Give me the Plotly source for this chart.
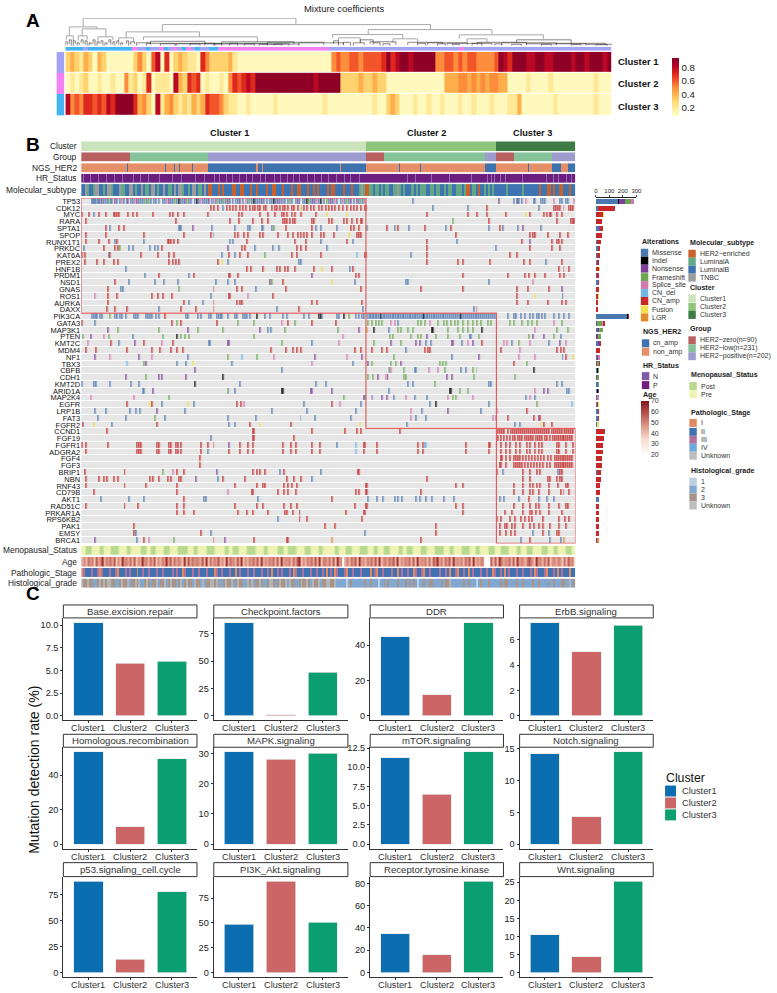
import plotly.graph_objects as go

W, H = 777, 993
FONT = "Liberation Sans"

# ---------- panel A ----------
MIX_CLUSTER1 = "3432431" + "43" + "111111" + "35316" + "817" + "1343221" + "7533334" + "211" + "1111111111111111111" + "565566566667" + "97899899999" + "55665656655556" + "9879998899889999899899989"
MIX_CLUSTER2 = "1212311211211" + "52" + "312712221" + "8437671" + "21121" + "576787" + "9999999999999899999" + "3333433433" + "1111111111111" + "44455454545544" + "1111211112111111111211111"
MIX_CLUSTER3 = "85657767687999" + "97" + "45318245" + "3232434" + "7665" + "322" + "1121111121111111111211" + "11111111211" + "343" + "1112112112111211211121112" + "241" + "111111211111111211111"
MIX_TOP_STRIP = "3333133333333" + "33" + "2113112312132131133" + "2222222222222222222222222" + "1" * 29 + "2" + "1" * 33
MIX_ROWS = ["Cluster 1", "Cluster 2", "Cluster 3"]

DENDRO_X0 = [82, 68, 162, 370, 125.5, 143, 334, 462, 118, 65, 81, 77, 97, 340, 362, 395, 470, 520, 150, 222, 268, 300, 372, 410, 430, 450, 480, 505, 530, 560, 590, 64, 68, 72, 76, 80, 84, 88, 92, 96, 100, 104, 108, 112, 116, 120, 126, 130, 136, 146, 160, 176, 190, 205, 214, 230, 245, 260, 275, 335, 345, 355, 375, 385, 420, 440, 455, 475, 498, 515, 545, 575, 600]
DENDRO_X1 = [297, 96, 433, 495, 199.5, 258, 405, 547, 133, 72, 105, 86, 112, 362, 375, 420, 490, 575, 205, 295, 325, 345, 398, 445, 470, 495, 530, 560, 590, 610, 616, 66, 70, 74, 78, 82, 86, 90, 94, 98, 102, 106, 110, 114, 118, 122, 128, 134, 150, 175, 200, 215, 222, 238, 255, 268, 290, 283, 300, 340, 352, 366, 382, 392, 428, 448, 462, 485, 505, 525, 555, 585, 612]
DENDRO_H = [27.7, 19, 21.3, 16.3, 14, 9, 11.3, 11, 8, 10, 17, 10, 9, 8, 6, 7, 7, 6, 4.5, 4, 3.5, 3, 4, 3.5, 3, 2.5, 3.5, 3, 2, 2.5, 1.5, 4, 6, 5, 3, 6, 5, 3, 6, 4, 5, 3, 6, 4, 5, 3, 5, 4, 3, 2.5, 2, 2.5, 2, 2.5, 1.8, 2.5, 2, 1.5, 1.8, 5, 3.5, 3, 3, 2, 2.5, 2, 1.5, 2.5, 2, 1.5, 1.5, 1.2, 1]
DENDRO_H0 = [19, 10, 14, 11.3, 8, 6, 8, 7, 5, 6, 10, 5, 5, 5, 3, 3, 3, 3, 2, 1.5, 1, 1, 2, 1, 1, 1, 1, 1, 1, 1, 0.5, 0, 2, 0, 0, 3, 1, 0, 2, 0, 2, 0, 3, 1, 2, 0, 2, 1, 0, 0, 0, 0, 0, 0, 0, 0, 0, 0, 0, 2, 1, 0, 1, 0, 0, 0, 0, 0, 0, 0, 0, 0, 0]
DENDRO_H1 = [21.3, 17, 16.3, 11, 9, 4, 7, 7, 4, 5, 9, 6, 6, 3, 3, 2, 4, 2, 2, 2, 1, 1, 1, 2, 1, 1, 1, 1, 1, 1, 0.5, 1, 0, 2, 1, 2, 0, 1, 0, 2, 0, 1, 1, 0, 1, 1, 0, 2, 1, 0, 0, 0, 0, 0, 0, 0, 0, 0, 0, 0, 0, 1, 0, 0, 0, 0, 0, 0, 0, 0, 0, 0, 0]

# ---------- panel B ----------
GENES = ["TP53", "CDK12", "MYC", "RARA", "SPTA1", "SPOP", "RUNX1T1", "PRKDC", "KAT6A", "PREX2", "HNF1B", "PRDM1", "NSD1", "GNAS", "ROS1", "AURKA", "DAXX",
         "PIK3CA", "GATA3", "MAP3K1", "PTEN", "KMT2C", "MDM4", "NF1", "TBX3", "CBFB", "CDH1", "KMT2D", "ARID1A", "MAP2K4", "EGFR", "LRP1B", "FAT3", "FGFR2",
         "CCND1", "FGF19", "FGFR1", "ADGRA2", "FGF4", "FGF3", "BRIP1", "NBN", "RNF43", "CD79B", "AKT1", "RAD51C", "PRKAR1A", "RPS6KB2", "PAK1", "EMSY", "BRCA1"]
PERCENT = [54, 27, 11, 9, 9, 9, 7, 6, 6, 5, 5, 4, 4, 4, 4, 3, 3, 46, 12, 9, 7, 7, 6, 5, 5, 4, 4, 4, 4, 4, 4, 4, 3, 3, 13, 12, 10, 10, 9, 9, 7, 7, 6, 6, 5, 5, 5, 5, 5, 4, 3]

N_COLS = 500
CLUSTER_ENDS = [0, 288, 420, 500]
CLUSTER_LABELS = ["Cluster 1", "Cluster 2", "Cluster 3"]
CLUSTER_LABEL_POS = [150, 349, 456]
CLUSTER_GENE_SPANS = [(0, 16), (17, 33), (34, 50)]

MISSENSE = {
    "TP53": [10, 11, 12, 13, 14, 16, 17, 18, 22, 24, 26, 29, 30, 35, 38, 42, 46, 50, 52, 58, 60, 62, 66, 70, 73, 75, 78, 82, 84, 90, 92, 96, 100, 102, 108, 110, 114, 118, 122, 124, 126, 131, 133, 136, 140, 142, 146, 150, 153, 156, 158, 163, 168, 172, 176, 178, 180, 184, 187, 190, 192, 196, 200, 202, 205, 208, 212, 216, 220, 224, 226, 232, 236, 240, 245, 250, 254, 258, 262, 266, 270, 275, 280, 284, 335, 437, 440, 442, 445, 457, 458, 464, 466, 468, 483, 485, 490, 492],
    "CDK12": [143, 222, 355, 390, 462],
    "MYC": [12], "SPTA1": [28, 98, 99, 100, 131, 155, 168, 170, 182, 183, 192, 237, 242, 258, 288, 317, 331, 368, 412, 426, 441, 464],
    "SPOP": [133], "RUNX1T1": [33, 63, 150, 153, 242, 274, 379],
    "PRKDC": [2, 48, 52, 69, 74, 77, 175, 193, 199, 248, 419], "KAT6A": [27, 142, 155, 333], "PREX2": [148, 219, 222, 469],
    "HNF1B": [45, 271], "PRDM1": [64, 108], "NSD1": [48, 74, 83, 97, 136, 148, 155, 276, 328, 330, 412],
    "GNAS": [39, 41, 176], "ROS1": [130, 486], "AURKA": [108, 122], "DAXX": [78, 197, 284, 396],
    "PIK3CA": [10, 12, 14, 15, 18, 20, 33, 35, 38, 40, 45, 53, 55, 57, 65, 67, 69, 71, 75, 78, 105, 107, 117, 120, 128, 130, 137, 139, 141, 142, 148, 155, 157, 163, 165, 167, 170, 185, 190, 203, 207, 225, 230, 243, 258, 260, 277, 280, 283, 285, 289, 291, 292, 294, 295, 297, 298, 300, 303, 305, 306, 308, 310, 311, 313, 315, 316, 318, 320, 321, 323, 325, 326, 328, 330, 332, 333, 335, 337, 338, 340, 342, 344, 345, 347, 349, 350, 352, 354, 356, 357, 359, 361, 363, 365, 366, 368, 370, 372, 374, 376, 378, 380, 382, 384, 386, 388, 390, 392, 394, 396, 398, 400, 402, 404, 406, 408, 410, 412, 414, 416, 418, 431, 437, 439, 444, 448, 453, 456, 460, 462, 465, 468, 477, 482, 488, 493],
    "GATA3": [13, 320], "MAP3K1": [188, 191, 311], "PTEN": [52, 392, 393, 484], "KMT2C": [37, 128, 129, 233, 348, 353, 384, 435, 472],
    "MDM4": [328], "NF1": [107, 374, 486], "TBX3": [96, 105, 152, 274], "CBFB": [202, 310, 337, 338, 383, 388],
    "KMT2D": [0, 12, 14, 28, 50, 58, 160, 237, 247, 330, 335, 412, 414, 480, 485],
    "ARID1A": [62, 63, 148, 155, 311, 491, 493], "MAP2K4": [286, 293, 316, 337, 349, 449, 458],
    "EGFR": [81, 113, 225, 282, 352, 412], "LRP1B": [13, 24, 49, 55, 59, 104, 192, 228, 277, 344, 404],
    "FAT3": [16, 45, 84, 148, 176, 221, 236, 272, 338, 348], "FGFR2": [30, 149, 155, 329, 438, 443],
    "FGF19": [130], "FGFR1": [258], "ADGRA2": [127], "BRIP1": [137, 200, 242, 426, 481], "NBN": [138, 233],
    "AKT1": [19, 48, 63, 123, 125, 178, 289, 298, 304, 317, 320, 324, 338, 342, 348, 354, 366, 376, 423, 427, 442, 462, 470, 477],
    "RPS6KB2": [198], "EMSY": [55, 130, 286, 456, 472], "BRCA1": [56, 444, 473, 484],
}
INDEL = {
    "TP53": [98, 116, 174, 194, 228, 242], "PIK3CA": [177, 240, 242, 265, 302, 346, 383], "MAP3K1": [295, 354, 355, 405],
    "PTEN": [96], "CDH1": [143], "CBFB": [457], "KMT2D": [114], "ARID1A": [202, 203, 372, 373], "EGFR": [358],
}
NONSENSE = {
    "TP53": [20, 33, 47, 56, 88, 104, 128, 148, 160, 182, 198, 218, 234, 252, 272, 278, 422, 441],
    "SPTA1": [112, 446], "RUNX1T1": [453], "PRKDC": [148], "PRDM1": [233], "NSD1": [190], "GNAS": [485],
    "MAP3K1": [26, 107, 180, 280], "PTEN": [9, 349, 456, 467], "KMT2C": [54, 148, 149, 313, 338, 342, 374, 375, 395, 483],
    "NF1": [13, 58, 236, 283, 402], "TBX3": [65, 289, 323], "CBFB": [114], "CDH1": [45, 78, 81, 105, 299, 309, 369, 374],
    "ARID1A": [72, 232, 233, 253, 467, 471], "MAP2K4": [285, 303, 308], "LRP1B": [76, 370], "FAT3": [462], "FGFR1": [149],
    "BRIP1": [137], "NBN": [115], "BRCA1": [13, 145],
}
FRAMESHIFT = {
    "TP53": [27, 64, 68, 94, 106, 138, 144, 170, 210, 230, 248, 268, 282], "RARA": [375], "SPTA1": [194], "PRKDC": [38], "KAT6A": [185],
    "NSD1": [192], "GNAS": [98], "PIK3CA": [28, 270],
    "GATA3": [96, 158, 174, 215, 289, 293, 297, 300, 303, 340, 343, 347, 360, 366, 369, 373, 377, 380, 385, 390, 395, 400, 404, 411, 414, 433, 437, 445, 451, 455, 460, 485],
    "MAP3K1": [36, 78, 117, 143, 205, 259, 320, 323, 330, 335, 370, 380, 385, 390, 395, 480, 492],
    "PTEN": [1, 27, 82, 100, 104, 108, 174, 312, 315, 333, 340, 343, 358, 370, 382, 402, 452, 477],
    "KMT2C": [202, 295, 323, 442], "NF1": [148, 177, 316], "TBX3": [63, 293, 313, 318, 362, 365, 368, 450],
    "CBFB": [312, 326, 367, 395, 399], "CDH1": [65, 289, 294, 326, 328, 396, 438], "KMT2D": [357], "ARID1A": [148, 382, 390],
    "MAP2K4": [88, 265, 375, 378], "EGFR": [460], "FAT3": [74], "BRIP1": [82], "BRCA1": [93],
}
SPLICE = {
    "TP53": [40, 54, 86, 120, 134, 166, 204, 238, 256, 264, 286, 449, 477, 498], "ROS1": [13, 168], "NSD1": [456],
    "GATA3": [202, 313, 317, 352, 477], "PTEN": [22, 264], "KMT2C": [6, 81, 260, 390, 427, 430, 453, 490], "MDM4": [443],
    "NF1": [28, 71, 194, 268, 442, 458], "TBX3": [233], "CBFB": [313, 351, 360], "CDH1": [307], "ARID1A": [458],
    "MAP2K4": [9, 53, 293, 328, 370, 395, 453], "EGFR": [164, 261], "LRP1B": [333, 420], "FAT3": [333, 416, 419], "BRIP1": [92], "CD79B": [148], "BRCA1": [68], "MAP3K1": [458],
}
CN_DEL = {"KAT6A": [278], "NF1": [162], "TBX3": [46], "EGFR": [496], "FGFR1": [277, 347, 348], "ADGRA2": [277]}
CN_AMP = {
    "CDK12": [130, 134, 138, 147, 150, 153, 156, 160, 163, 166, 170, 173, 175, 178, 180, 184, 186, 192, 195, 197, 200, 203, 205, 208, 212, 214, 218, 225, 228, 232, 235, 240, 243, 247, 250, 253, 256, 260, 264, 268, 272, 275, 278, 282, 286, 287, 410, 477, 479, 481, 483, 487, 493, 495, 497],
    "MYC": [0, 7, 17, 24, 32, 33, 35, 37, 47, 52, 56, 72, 89, 92, 97, 103, 127, 159, 162, 180, 188, 195, 202, 204, 207, 212, 215, 222, 237, 349, 390, 400, 410, 429, 453, 467, 470, 473, 474, 480, 485],
    "RARA": [4, 95, 150, 159, 173, 182, 188, 203, 205, 207, 210, 213, 215, 233, 235, 250, 253, 265, 268, 273, 278, 282, 283, 412, 480, 495, 497, 498],
    "SPTA1": [24, 37, 42, 206, 233, 272, 275, 280, 308, 320, 347, 373, 423],
    "SPOP": [4, 24, 63, 103, 130, 155, 158, 164, 168, 180, 183, 198, 208, 213, 218, 222, 225, 228, 233, 242, 245, 255, 278, 280, 282, 378, 453, 456, 458, 471, 483, 492],
    "RUNX1T1": [4, 17, 27, 35, 87, 88, 90, 93, 97, 167, 215, 227, 268, 349, 445, 475, 480, 482, 485],
    "PRKDC": [22, 33, 36, 81, 162, 165, 217, 222, 227, 349, 453, 475, 483],
    "KAT6A": [0, 3, 28, 60, 77, 88, 93, 149, 160, 168, 212, 217, 242, 287, 286, 349, 433, 440],
    "PREX2": [3, 15, 22, 32, 36, 88, 92, 95, 98, 138, 349, 380, 385, 413, 447, 453, 485],
    "HNF1B": [167, 171, 183, 197, 200, 205, 208, 215, 235, 253, 274, 482, 487, 493],
    "PRDM1": [78, 113, 149, 150, 158, 277, 280, 385, 431, 448, 452, 458, 468, 483, 488],
    "NSD1": [33, 203], "GNAS": [26, 133, 157, 162, 206, 282, 343, 385, 440, 451, 472],
    "ROS1": [26, 35, 71, 77, 82, 91, 149, 150, 193, 440], "AURKA": [26, 103, 133, 157, 160, 162, 233, 238, 283, 440, 451, 471, 485, 490],
    "DAXX": [25, 33, 46, 100, 115, 133, 219, 399], "PIK3CA": [84], "GATA3": [0, 91, 100, 137, 208, 233, 257],
    "KMT2C": [29, 63, 92, 405], "MDM4": [4, 14, 46, 71, 79, 90, 96, 102, 191, 206, 213, 217, 222, 276, 282, 293, 303, 308, 347, 350, 352, 424, 480, 484, 488],
    "NF1": [490], "TBX3": [437], "EGFR": [46, 71, 157, 161, 253], "LRP1B": [450], "FAT3": [431, 457, 463],
    "FGFR2": [1, 76, 170, 211, 467, 475],
    "CCND1": [25, 173, 174, 233, 266, 278, 282, 322, 421, 423, 425, 427, 431, 434, 436, 438, 440, 442, 444, 446, 448, 450, 452, 454, 456, 458, 460, 462, 464, 466, 468, 470, 472, 475, 477, 479, 481, 483, 485, 487, 489, 491, 493, 495, 497],
    "FGF19": [173, 174, 214, 421, 424, 427, 430, 433, 436, 438, 441, 443, 445, 448, 450, 452, 454, 456, 459, 461, 463, 465, 468, 470, 473, 476, 478, 480, 482, 484, 486, 488, 490, 492, 494, 496],
    "FGFR1": [0, 4, 26, 56, 58, 60, 76, 78, 88, 90, 95, 97, 100, 120, 127, 133, 160, 168, 173, 203, 211, 216, 233, 241, 286, 285, 298, 340, 345, 388, 412, 413, 424, 429, 433, 439, 443, 450, 453, 458, 462, 465, 480, 482, 490, 497],
    "ADGRA2": [4, 56, 58, 60, 76, 78, 88, 90, 95, 97, 100, 120, 149, 160, 168, 173, 203, 211, 216, 233, 241, 285, 298, 340, 345, 388, 412, 424, 429, 433, 439, 443, 450, 453, 458, 462, 465, 480, 482, 490, 497],
    "FGF4": [119, 424, 425, 429, 433, 437, 439, 441, 443, 446, 449, 452, 455, 458, 461, 464, 467, 471, 474, 478, 480, 482, 484, 486, 488, 490, 492, 494, 496],
    "FGF3": [119, 423, 424, 429, 437, 439, 441, 443, 445, 448, 451, 454, 457, 460, 463, 466, 470, 473, 478, 480, 482, 484, 486, 488, 490, 492, 494, 496],
    "BRIP1": [3, 43, 96, 103, 173, 177, 180, 185, 204, 279, 280, 420, 446, 453, 460, 463, 483, 485],
    "NBN": [4, 17, 22, 25, 32, 36, 69, 72, 78, 87, 90, 98, 100, 143, 165, 207, 214, 222, 349, 446, 453, 471, 473, 480, 483, 485],
    "RNF43": [4, 43, 65, 96, 155, 177, 183, 185, 204, 208, 212, 217, 287, 288, 378, 385, 437, 446, 453, 456, 460, 463, 472, 481, 490, 492],
    "CD79B": [12, 96, 172, 173, 198, 204, 208, 216, 277, 280, 287, 288, 343, 437, 446, 453, 456, 462, 472, 484, 487, 493],
    "AKT1": [103, 253, 452], "RAD51C": [4, 43, 57, 96, 103, 155, 177, 183, 204, 211, 217, 276, 287, 288, 378, 385, 437, 446, 453, 459, 462, 472, 482, 490, 492],
    "PRKAR1A": [96, 103, 113, 158, 167, 173, 188, 205, 207, 213, 220, 267, 285, 286, 385, 428, 435, 446, 453, 455, 459, 463, 472, 485],
    "RPS6KB2": [220, 228, 283, 420, 424, 433, 438, 444, 448, 452, 455, 466, 482, 489, 493],
    "PAK1": [53, 246, 256, 358, 423, 428, 430, 435, 438, 446, 453, 457, 462, 466, 473, 482, 490],
    "EMSY": [53, 120, 358, 423, 429, 434, 438, 466, 480, 482], "BRCA1": [63, 133, 174, 207, 208, 343, 453],
}
FUSION = {"CDK12": [222], "MYC": [248, 268, 449], "SPOP": [270], "PREX2": [142], "HNF1B": [243], "NSD1": [253], "ROS1": [458], "TBX3": [112], "EGFR": [69, 107], "FGFR2": [12, 180, 281, 464], "NF1": [497]}
LGR = {"MAP3K1": [288], "BRCA1": [253, 488]}

BAR_MISSENSE = {"TP53": 163, "CDK12": 15, "MYC": 1, "SPTA1": 27, "SPOP": 2, "RUNX1T1": 10, "PRKDC": 17, "KAT6A": 8, "PREX2": 5, "HNF1B": 2, "PRDM1": 3, "NSD1": 17, "GNAS": 3, "ROS1": 3, "AURKA": 3, "DAXX": 5, "PIK3CA": 235, "GATA3": 5, "MAP3K1": 10, "PTEN": 6, "KMT2C": 15, "NF1": 8, "TBX3": 3, "CBFB": 14, "KMT2D": 20, "ARID1A": 12, "MAP2K4": 10, "EGFR": 10, "LRP1B": 15, "FAT3": 15, "FGFR2": 9, "FGFR1": 3, "BRIP1": 6, "AKT1": 26, "EMSY": 4, "BRCA1": 6}
BAR_INDEL = {"TP53": 12, "PIK3CA": 5, "MAP3K1": 3, "CBFB": 2, "ARID1A": 4}
BAR_NONSENSE = {"TP53": 37, "SPTA1": 5, "PRKDC": 2, "PRDM1": 2, "NSD1": 2, "GNAS": 1, "GATA3": 4, "MAP3K1": 12, "PTEN": 10, "KMT2C": 15, "NF1": 12, "TBX3": 5, "CBFB": 1, "CDH1": 12, "ARID1A": 6, "LRP1B": 3, "BRCA1": 3}
BAR_FRAMESHIFT = {"TP53": 46, "GATA3": 40, "MAP3K1": 25, "PTEN": 20, "KMT2C": 4, "TBX3": 15, "CBFB": 5, "CDH1": 10, "KMT2D": 1, "MAP2K4": 4}
BAR_SPLICE = {"TP53": 24, "ROS1": 2, "GATA3": 5, "NF1": 6, "MAP2K4": 8, "EGFR": 3, "LRP1B": 1, "FAT3": 2}
BAR_AMP = {"CDK12": 125, "MYC": 55, "RARA": 48, "SPTA1": 18, "SPOP": 46, "RUNX1T1": 28, "PRKDC": 15, "KAT6A": 22, "PREX2": 20, "HNF1B": 22, "PRDM1": 18, "NSD1": 3, "GNAS": 17, "ROS1": 14, "AURKA": 13, "DAXX": 11, "PIK3CA": 3, "GATA3": 9, "KMT2C": 3, "MDM4": 30, "TBX3": 2, "EGFR": 6, "LRP1B": 2, "FAT3": 3, "FGFR2": 5, "CCND1": 68, "FGF19": 63, "FGFR1": 50, "ADGRA2": 50, "FGF4": 47, "FGF3": 47, "BRIP1": 30, "NBN": 38, "RNF43": 32, "CD79B": 32, "RAD51C": 27, "PRKAR1A": 26, "RPS6KB2": 25, "PAK1": 25, "EMSY": 16, "BRCA1": 4}
BAR_FUSION = {"MYC": 3, "HNF1B": 2, "ROS1": 1, "EGFR": 2, "FGFR2": 3}
BAR_LGR = {"BRCA1": 3}

CLUSTER_CODES = [0, 1, 2]
CLUSTER_RUNS = [288, 132, 80]
GROUP_CODES = [0, 1, 2, 0, 1, 2, 0, 1, 2]
GROUP_RUNS = [49, 79, 160, 19, 102, 11, 18, 39, 23]
NGS_CODES = [1, 0, 1, 0, 1, 0, 1, 0, 1, 0, 1, 0, 1, 0, 1, 0, 1, 0, 1, 0, 1, 0, 1, 0, 1, 0, 1, 0, 1, 0]
NGS_RUNS = [46, 1, 38, 1, 8, 1, 4, 1, 12, 1, 15, 49, 2, 4, 1, 78, 1, 25, 34, 1, 20, 1, 65, 11, 32, 1, 24, 9, 7, 7]
HR_NEGATIVE = [2, 9, 17, 25, 33, 41, 52, 60, 68, 79, 92, 101, 115, 124, 134, 140, 147, 153, 160, 167, 173, 181, 186, 195, 201, 208, 214, 220, 229, 236, 243, 250, 258, 266, 272, 281, 330, 338, 354, 372, 395, 411, 415, 418, 424, 429, 446, 470, 478, 483, 491, 496]
SUBTYPE = ("BBTABBATTBBABTTABBBTAABBTTBABBTBAABTTBABBTBBAABTBTTABBABTTBAABTB"
           "HHBBBHBHBBBBHHBBHHBBBHBBHBBBBHBBHHBBBHBBBBHBBHHBBBHBBHBHBBBBHBHHBBBBHBBBHBBBATA"
           "HHAABAABABAABBAATABABBBAABABAAABBAABAABBABAABBAAABAHHBAABHBBABABAB"
           "BBBBBABBBBBBBABBBBBBBBHBBBHHBHBBHHBBBHBB")
MENOPAUSE = ("0011100001100011110000110000011100110000111000011111000110000111100000110011100001111000011000001110011110000111000011000"
             "0001100011100001111000110001110000110011100001110000111100011000011110001100001110001111000011000111000011100011000011100")
AGE_CODES = ("35274618359264738152946372815394627381526493827364192837465382917364825193746283915264738192536472819354627389152647382916"
             "637281945x" "3627481935264738291563748291536472819354627185936274819353627481925364" "xxx" "7281963547281936427853194627381553641728460")
STAGE = ("13222322313222322312223232221223223222322322223232213222322322232221322322232212322232232223223212232322232132223222322322321"
         "23213222312232223222212312232222322123223221322312232222322321223122322123222322322132232123222322322232132223122232123222122")
GRADE = ("43343322343434433223433423343422343233423342343323423433243324233443432234334234332243423343223443234334243322343343243342334"
         "43342222212322222232232221223232222322232323212232233222232334222222322322212322232222232332222322322223223222232232223322423")
AGE_VALUES = {"0": 35, "1": 38, "2": 41, "3": 44, "4": 47, "5": 49, "6": 51, "7": 54, "8": 58, "9": 66}

# ---------- panel C ----------
PATHWAYS = ["Base.excision.repair", "Checkpoint.factors", "DDR", "ErbB.signaling",
            "Homologous.recombination", "MAPK.signaling", "mTOR.signaling", "Notch.signaling",
            "p53.signaling_cell.cycle", "PI3K_Akt.signaling", "Receptor.tyrosine.kinase", "Wnt.signaling"]
CLUSTERS = ["Cluster1", "Cluster2", "Cluster3"]
CLUSTER1_RATE = [10.3, 85.5, 44.8, 7.36, 53.5, 30.5, 11.2, 14.2, 88, 48.5, 35, 10.5]
CLUSTER2_RATE = [5.8, 0.8, 12, 5.05, 10, 28, 6.5, 4.3, 13, 92, 16, 4.4]
CLUSTER3_RATE = [6.0, 40, 52.8, 7.15, 49.5, 30, 12, 14.5, 78, 50.5, 82, 25.3]
PATHWAY_TICKS = [["0.0", "2.5", "5.0", "7.5", "10.0"], ["0", "25", "50", "75"], ["0", "20", "40"], ["0", "2", "4", "6"],
                 ["0", "20", "40"], ["0", "10", "20", "30"], ["0.0", "2.5", "5.0", "7.5", "10.0", "12.5"], ["0", "5", "10", "15"],
                 ["0", "25", "50", "75"], ["0", "25", "50", "75"], ["0", "20", "40", "60", "80"], ["0", "5", "10", "15", "20", "25"]]

COL_BLUE = "#0A6EB0"
COL_RED = "#CC6666"
COL_GREEN = "#0A9E70"

ALT_NAMES = ["Missense", "Indel", "Nonsense", "Frameshift", "Splice_site", "CN_del", "CN_amp", "Fusion", "LGR"]
ALT_SWATCH = ["#4C78B0", "#000000", "#7F3F98", "#6AA84F", "#D678B0", "#6EB6E8", "#C62828", "#F2E14C", "#E08A2C"]
ONCO_BG = "#E6E6E6"

fig = go.Figure()
layout = dict(width=W, height=H, margin=dict(l=0, r=0, t=0, b=0), plot_bgcolor="rgba(0,0,0,0)", paper_bgcolor="white",
              showlegend=False, font=dict(family=FONT, color="#222222"), bargap=0.3)
shapes = []
annotations = []
axis_no = [0]


def new_axes(x0, x1, y0, y1, xrange, yrange, xkw=None, ykw=None):
    # x0..y1 are pixel edges of the panel on the page
    axis_no[0] += 1
    n = axis_no[0]
    xa = dict(domain=[x0 / W, x1 / W], range=xrange, visible=False, anchor=f"y{n}", fixedrange=True)
    ya = dict(domain=[1 - y1 / H, 1 - y0 / H], range=yrange, visible=False, anchor=f"x{n}", fixedrange=True)
    xa.update(xkw or {})
    ya.update(ykw or {})
    layout[f"xaxis{n}"] = xa
    layout[f"yaxis{n}"] = ya
    return f"x{n}", f"y{n}"


def steps(colors):
    n = len(colors)
    out = []
    for i, c in enumerate(colors):
        out += [[i / n, c], [(i + 1) / n, c]]
    return out


def blend(c1, c2, t):
    a = [int(c1[i:i + 2], 16) for i in (1, 3, 5)]
    b = [int(c2[i:i + 2], 16) for i in (1, 3, 5)]
    return "#" + "".join(f"{round(p + (q - p) * t):02X}" for p, q in zip(a, b))


def text(x, y, s, size=8, bold=False, anchor="left", color="#222222", angle=0):
    annotations.append(dict(x=x / W, y=1 - y / H, xref="paper", yref="paper", text=f"<b>{s}</b>" if bold else s, showarrow=False,
                            xanchor=anchor, yanchor="middle", font=dict(size=size, color=color, family=FONT), textangle=angle))


def box(x0, y0, x1, y1, fill, line=None, width=1):
    shapes.append(dict(type="rect", xref="paper", yref="paper", x0=x0 / W, x1=x1 / W, y0=1 - y1 / H, y1=1 - y0 / H,
                       fillcolor=fill, line=dict(color=line, width=width) if line else dict(width=0)))


def expand(codes, runs):
    out = []
    for c, r in zip(codes, runs):
        out += [c] * r
    return out


def track(label, values, colors, y0, y1):
    xa, ya = new_axes(80, 579.5, y0, y1, [0, N_COLS], [-0.5, 0.5])
    n = len(values)
    fig.add_trace(go.Heatmap(z=[values], x=[(i + 0.5) * N_COLS / n for i in range(n)], y=[0], xaxis=xa, yaxis=ya,
                             colorscale=steps(colors), zmin=-0.5, zmax=len(colors) - 0.5, showscale=False, hoverinfo="skip"))
    text(78, (y0 + y1) / 2, label, size=8.4, anchor="right")


def legend(title, x, y, names, colors, ys):
    text(x, y, title, size=7.1, bold=True)
    for name, col, yy in zip(names, colors, ys):
        box(x + 0.5, yy - 4, x + 8, yy + 4, col)
        text(x + 10, yy, name, size=7, color="#333333")


# ---- A ----
text(22, 17, "A", size=19, bold=True, color="#000000")
text(346, 5, "Mixture coefficients", size=9.4, anchor="center")
xa, ya = new_axes(64, 616, 14, 42, [64, 616], [0, 28])
for is_upper, col, wid in [(True, "#A8A8A8", 1.0), (False, "#333333", 0.6)]:
    xs, ys = [], []
    for x0, x1, h, h0, h1 in zip(DENDRO_X0, DENDRO_X1, DENDRO_H, DENDRO_H0, DENDRO_H1):
        if (h >= 6.5) == is_upper:
            xs += [x0, x0, x1, x1, None]
            ys += [h0, h, h, h1, None]
    fig.add_trace(go.Scatter(x=xs, y=ys, xaxis=xa, yaxis=ya, mode="lines", line=dict(color=col, width=wid), hoverinfo="skip"))

TREE_COLS = ["#A3A3F5", "#F582F5", "#45B4F5"]
xa, ya = new_axes(64, 616, 43, 47, [-0.5, len(MIX_TOP_STRIP) - 0.5], [-0.5, 0.5])
fig.add_trace(go.Heatmap(z=[[int(c) - 1 for c in MIX_TOP_STRIP]], xaxis=xa, yaxis=ya, colorscale=steps(TREE_COLS), zmin=-0.5, zmax=2.5, showscale=False, hoverinfo="skip"))
xa, ya = new_axes(55, 63, 48, 112, [-0.5, 0.5], [2.5, -0.5])
fig.add_trace(go.Heatmap(z=[[0], [1], [2]], xaxis=xa, yaxis=ya, colorscale=steps(TREE_COLS), zmin=-0.5, zmax=2.5, showscale=False, hoverinfo="skip"))

mix_cols = min(len(MIX_CLUSTER1), len(MIX_CLUSTER2), len(MIX_CLUSTER3))
xa, ya = new_axes(64, 616, 48, 112, [-0.5, mix_cols - 0.5], [2.5, -0.5])
fig.add_trace(go.Heatmap(
    z=[[int(c) / 10 for c in row[:mix_cols]] for row in (MIX_CLUSTER1, MIX_CLUSTER2, MIX_CLUSTER3)],
    xaxis=xa, yaxis=ya, zmin=0.065, zmax=0.935, ygap=1, hoverinfo="skip",
    colorscale=[[0, "#FFFFCC"], [0.125, "#FFEDA0"], [0.25, "#FED976"], [0.375, "#FEB24C"], [0.5, "#FD8D3C"], [0.625, "#F2502A"], [0.75, "#D9201C"], [0.875, "#B00026"], [1, "#800026"]],
    colorbar=dict(x=677 / W, xanchor="left", y=1 - 113 / H, yanchor="bottom", len=58, lenmode="pixels", thickness=7, thicknessmode="pixels",
                  tickvals=[0.2, 0.4, 0.6, 0.8], ticktext=["0.2", "0.4", "0.6", "0.8"], ticks="", outlinewidth=0, xpad=0, ypad=0,
                  tickfont=dict(size=9.7, family=FONT, color="#222222"))))
for name, yy in zip(MIX_ROWS, [58, 80, 103]):
    text(620, yy, name, size=9.5, bold=True, color="#111111")

# ---- B tracks ----
text(22, 141, "B", size=19, bold=True, color="#000000")
for s, pos in zip(CLUSTER_LABELS, CLUSTER_LABEL_POS):
    text(80 + pos, 130, s, size=9.2, bold=True, anchor="center", color="#111111")

ngs = expand(NGS_CODES, NGS_RUNS)
hr = [1] * N_COLS
for s in HR_NEGATIVE:
    hr[s] = 0
track("Cluster", expand(CLUSTER_CODES, CLUSTER_RUNS), ["#CBE3BA", "#8FC47C", "#3F7B45"], 138, 148)
track("Group", expand(GROUP_CODES, GROUP_RUNS), ["#B8605F", "#86C29A", "#9E9CCF"], 149, 158.5)
track("NGS_HER2", ngs, ["#3E73AE", "#E58E68"], 160, 169.5)
track("HR_Status", hr, ["#8E6CB4", "#6E1E80"], 170.5, 180)
track("Molecular_subtype", ["HABT".index(c) for c in SUBTYPE], ["#C8622A", "#62A884", "#3F74B2", "#9C9C9C"], 181, 193)

# ---- B oncoprint ----
ROW_PX = 6.81
onco_top = 198.3 - ROW_PX / 2
onco_bottom = onco_top + ROW_PX * len(GENES)
# each altered sample: one strong column and a paler neighbour
strong = [blend(c, ONCO_BG, 0.18) for c in ALT_SWATCH]
pale = [blend(c, ONCO_BG, 0.55) for c in ALT_SWATCH]
matrix = [[0] * N_COLS for _ in GENES]
alteration_sets = [MISSENSE, INDEL, NONSENSE, FRAMESHIFT, SPLICE, CN_DEL, CN_AMP, FUSION, LGR]
for code, marks in enumerate(alteration_sets):
    for gene, samples in marks.items():
        row = matrix[GENES.index(gene)]
        for s in samples:
            if s + 1 < N_COLS and row[s + 1] == 0:
                row[s + 1] = code + 10
for code, marks in enumerate(alteration_sets):
    for gene, samples in marks.items():
        row = matrix[GENES.index(gene)]
        for s in samples:
            row[s] = code + 1
onco_colors = [ONCO_BG] + strong + pale
onco_x, onco_y = new_axes(80, 579.5, onco_top, onco_bottom, [0, N_COLS], [len(GENES) - 0.5, -0.5],
                          ykw=dict(visible=True, showgrid=False, zeroline=False, showline=False, ticks="", tickmode="array",
                                   tickvals=list(range(len(GENES))), ticktext=GENES, ticklen=0,
                                   tickfont=dict(size=7.5, family=FONT, color="#111111")))
fig.add_trace(go.Heatmap(z=matrix, x=[i + 0.5 for i in range(N_COLS)], y=list(range(len(GENES))), xaxis=onco_x, yaxis=onco_y, ygap=1,
                         colorscale=steps(onco_colors), zmin=-0.5, zmax=len(onco_colors) - 0.5, showscale=False, hoverinfo="skip"))
fig.add_trace(go.Scatter(x=[N_COLS + 1.5] * len(GENES), y=list(range(len(GENES))), xaxis=onco_x, yaxis=onco_y, mode="text", cliponaxis=False,
                         text=[f"{p}%" for p in PERCENT], textposition="middle right", textfont=dict(size=7.3, family=FONT, color="#222222"), hoverinfo="skip"))
for (g0, g1), c0, c1 in zip(CLUSTER_GENE_SPANS, CLUSTER_ENDS[:-1], CLUSTER_ENDS[1:]):
    shapes.append(dict(type="rect", xref=onco_x, yref=onco_y, x0=c0, x1=c1, y0=g0 - 0.5, y1=g1 + 0.5, line=dict(color="#DF6060", width=1.2), fillcolor="rgba(0,0,0,0)"))

# stacked count bars right of the matrix
bar_x, bar_y = new_axes(600, 641, onco_top, onco_bottom, [0, 300], [len(GENES) - 0.5, -0.5],
                        xkw=dict(visible=True, side="top", anchor="free", position=1 - 194 / H, tickvals=[0, 100, 200, 300], ticks="outside", ticklen=2, tickwidth=0.7,
                                 showline=True, linewidth=0.7, linecolor="#222222", showgrid=False, zeroline=False, tickfont=dict(size=6, family=FONT, color="#222222")))
for vals, col in [(BAR_MISSENSE, ALT_SWATCH[0]), (BAR_INDEL, ALT_SWATCH[1]), (BAR_NONSENSE, ALT_SWATCH[2]), (BAR_FRAMESHIFT, ALT_SWATCH[3]),
                  (BAR_SPLICE, ALT_SWATCH[4]), (BAR_AMP, ALT_SWATCH[6]), (BAR_FUSION, ALT_SWATCH[7]), (BAR_LGR, ALT_SWATCH[8])]:
    fig.add_trace(go.Bar(x=[vals.get(g, 0) for g in GENES], y=list(range(len(GENES))), orientation="h", xaxis=bar_x, yaxis=bar_y, width=0.72,
                         marker=dict(color=col, line=dict(width=0)), hoverinfo="skip"))
layout["barmode"] = "stack"

# ---- B bottom tracks ----
meno_x, meno_y = new_axes(80, 579.5, 544.5, 554, [0, N_COLS], [-0.5, 0.5])
meno = [int(c) for c in MENOPAUSE]
fig.add_trace(go.Heatmap(z=[meno, meno], x=[(i + 0.5) * N_COLS / len(meno) for i in range(len(meno))], y=[-0.5, 0.5], xaxis=meno_x, yaxis=meno_y,
                         colorscale=[[0, "#EFF3B2"], [1, "#B9D98F"]], zmin=0, zmax=1, zsmooth="best", showscale=False, hoverinfo="skip"))
text(78, 549.2, "Menopausal_Status", size=8.4, anchor="right")
track("Pathologic_Stage", [int(c) - 1 for c in STAGE], ["#E08A60", "#3F72AE", "#B070A0", "#6EA8DC"], 566.8, 576)
track("Histological_grade", [int(c) - 1 for c in GRADE], ["#BDD0E3", "#82A8D0", "#A8948A", "#B4B4B4"], 577.5, 587)

age_x, age_y = new_axes(80, 579.5, 555.5, 565.5, [0, N_COLS], [-0.5, 0.5])
ages = [AGE_VALUES.get(c, None) for c in AGE_CODES]
fig.add_trace(go.Heatmap(
    z=[ages, ages], x=[(i + 0.5) * N_COLS / len(ages) for i in range(len(ages))], y=[-0.5, 0.5],
    xaxis=age_x, yaxis=age_y, zmin=20, zmax=70, zsmooth="best", hoverinfo="skip",
    colorscale=[[0, "#FFFFFF"], [0.3, "#F7D9CC"], [0.55, "#DE9484"], [0.8, "#B24A48"], [1, "#84141C"]],
    colorbar=dict(x=646 / W, xanchor="left", y=1 - 453 / H, yanchor="bottom", len=54, lenmode="pixels", thickness=8, thicknessmode="pixels",
                  tickvals=[20, 30, 40, 50, 60, 70], ticks="", outlinewidth=0, xpad=0, ypad=0, tickfont=dict(size=7, family=FONT, color="#333333"))))
text(78, 560.5, "Age", size=8.4, anchor="right")

# ---- B legends ----
legend("Alterations", 645, 239, ALT_NAMES, ALT_SWATCH, [250, 258, 266, 274.5, 282.5, 290.5, 298.5, 307, 315])
legend("Molecular_subtype", 693, 240, ["HER2−enriched", "LuminalA", "LuminalB", "TNBC"], ["#C8622A", "#62A884", "#3F74B2", "#9C9C9C"], [251, 259, 267, 275])
legend("Cluster", 693, 285, ["Cluster1", "Cluster2", "Cluster3"], ["#CBE3BA", "#8FC47C", "#3F7B45"], [296, 304.5, 312.5])
legend("Group", 693, 327, ["HER2−zero(n=90)", "HER2−low(n=231)", "HER2−positive(n=202)"], ["#B8605F", "#86C29A", "#9E9CCF"], [338, 346, 354])
legend("NGS_HER2", 646, 330, ["cn_amp", "non_amp"], ["#3E73AE", "#E58E68"], [341, 349.5])
legend("HR_Status", 646, 364, ["N", "P"], ["#7F5AA8", "#6E1E80"], [374, 383])
legend("Menopausal_Status", 694, 373, ["Post", "Pre"], ["#B9D98F", "#EFF3B2"], [384, 392])
legend("Pathologic_Stage", 694, 411, ["I", "II", "III", "IV", "Unknown"], ["#E08A60", "#3F72AE", "#B070A0", "#6EA8DC", "#BDBDBD"], [421, 430, 438, 446, 454])
legend("Histological_grade", 694, 469, ["1", "2", "3", "Unknown"], ["#BDD0E3", "#82A8D0", "#A8948A", "#BDBDBD"], [480, 488, 496, 504])
text(646, 393, "Age", size=7.1, bold=True)

# ---- C ----
text(22, 592, "C", size=19, bold=True, color="#000000")
text(32, 770, "Mutation detection rate (%)", size=14, anchor="center", angle=-90, color="#111111")
COL_EDGES = [(62, 197), (214, 349.5), (372, 506.7), (523, 658)]
ROW_EDGES = [(604, 617, 720), (734, 747, 849), (863, 877, 978)]
for i, name in enumerate(PATHWAYS):
    x0, x1 = COL_EDGES[i % 4]
    top, y0, y1 = ROW_EDGES[i // 4]
    vals = [CLUSTER1_RATE[i], CLUSTER2_RATE[i], CLUSTER3_RATE[i]]
    m = max(vals)
    tick_labels = PATHWAY_TICKS[i]
    xa, ya = new_axes(
        x0, x1, y0, y1, [-0.6, 2.6], [-0.05 * m, 1.05 * m],
        xkw=dict(visible=True, tickvals=[0, 1, 2], showticklabels=False, ticks="outside", ticklen=2, tickwidth=1, tickcolor="#333333", showline=True, linewidth=1.2,
                 linecolor="#333333", showgrid=False, zeroline=False),
        ykw=dict(visible=True, tickvals=[float(t) for t in tick_labels], ticktext=tick_labels, ticks="outside", ticklen=2, tickwidth=1, tickcolor="#333333", showline=True,
                 linewidth=1.2, linecolor="#333333", showgrid=False, zeroline=False, tickfont=dict(size=9.2, family=FONT, color="#222222")))
    fig.add_trace(go.Bar(x=[0, 1, 2], y=vals, xaxis=xa, yaxis=ya, width=0.7, offset=-0.35, hoverinfo="skip",
                         marker=dict(color=[COL_BLUE, COL_RED, COL_GREEN], line=dict(color="#E8E8E8", width=0.7))))
    for k, lab in enumerate(CLUSTERS):
        annotations.append(dict(x=k, y=1 - (y1 + 8) / H, xref=xa, yref="paper", text=lab, showarrow=False, xanchor="center", yanchor="middle",
                                font=dict(size=9.2, family=FONT, color="#333333")))
    box(x0, top, x1, y0, "white", "#333333", 1)
    text((x0 + x1) / 2, (top + y0) / 2, name, size=9.6, anchor="center", color="#333333")

text(669, 778, "Cluster", size=12.3, color="#111111")
for name, col, yy in zip(CLUSTERS, [COL_BLUE, COL_RED, COL_GREEN], [791, 803, 815]):
    box(670, yy - 5.5, 681, yy + 5.5, col)
    text(685, yy, name, size=9.3, color="#333333")

fig.update_layout(**layout, shapes=shapes, annotations=annotations)

# the source figure is a soft raster: take the hard edge off the heatmap cells
SOFTEN = """
document.body.style.margin = '0';
var gd = document.getElementById('{plot_id}');
function soften() {
    document.querySelectorAll('.hm image').forEach(function (im) { im.style.filter = 'blur(0.4px)'; });
}
soften();
gd.on('plotly_afterplot', soften);
setTimeout(soften, 50);
"""
fig.write_html("out.html", config={"displayModeBar": False}, post_script=SOFTEN)
